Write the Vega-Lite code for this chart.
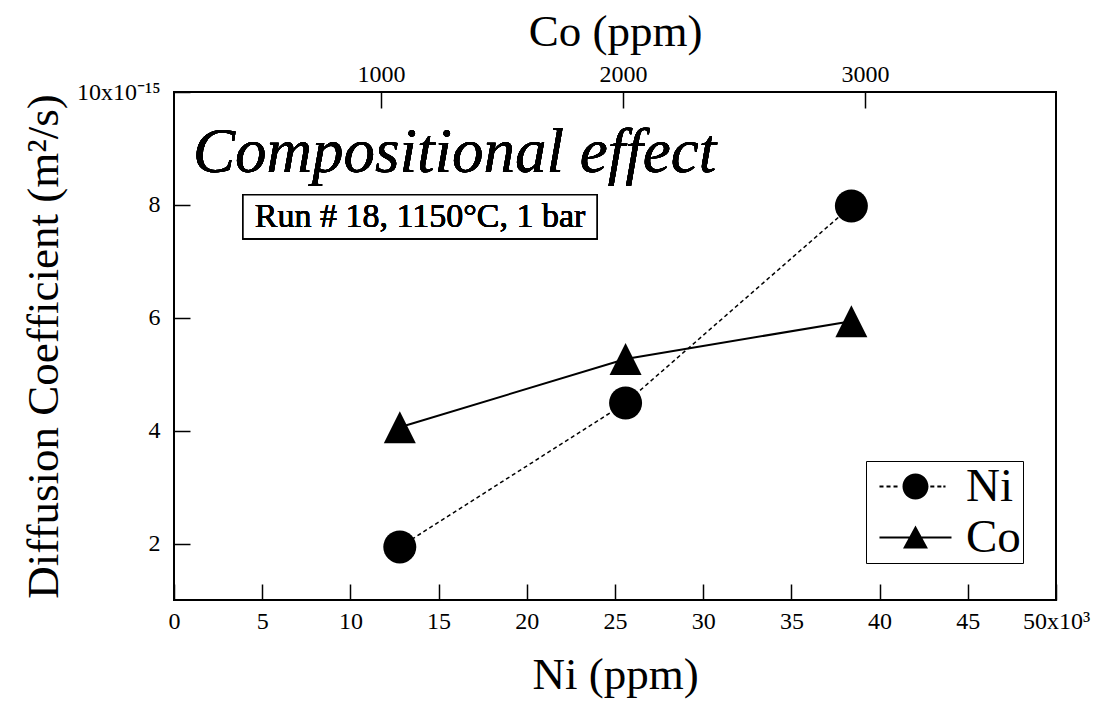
{
  "$schema": "https://vega.github.io/schema/vega-lite/v6.json",
  "width": 882,
  "height": 508,
  "autosize": {"type": "none"},
  "padding": {"left": 174, "top": 92, "right": 45, "bottom": 108},
  "background": "white",
  "config": {
    "view": {"stroke": "black", "strokeWidth": 2},
    "axis": {
      "labelFont": "Liberation Serif, Times New Roman, Times, serif",
      "labelFontSize": 24,
      "labelColor": "black",
      "tickColor": "black",
      "tickWidth": 1.5,
      "titleFont": "Liberation Serif, Times New Roman, Times, serif",
      "titleFontSize": 45,
      "titleFontWeight": "normal",
      "titleColor": "black",
      "domain": false,
      "grid": false
    },
    "text": {"font": "Liberation Serif, Times New Roman, Times, serif", "color": "black"}
  },
  "data": {
    "values": [
      {"series": "Ni", "Ni_kppm": 12.8, "D": 1.94},
      {"series": "Ni", "Ni_kppm": 25.6, "D": 4.49},
      {"series": "Ni", "Ni_kppm": 38.4, "D": 7.98},
      {"series": "Co", "Ni_kppm": 12.8, "D": 4.06},
      {"series": "Co", "Ni_kppm": 25.6, "D": 5.27},
      {"series": "Co", "Ni_kppm": 38.4, "D": 5.94}
    ]
  },
  "layer": [
    {
      "encoding": {
        "x": {
          "field": "Ni_kppm",
          "type": "quantitative",
          "scale": {"domain": [0, 50], "nice": false, "zero": false},
          "axis": {
            "title": "Ni (ppm)",
            "values": [0, 5, 10, 15, 20, 25, 30, 35, 40, 45, 50],
            "labelExpr": "datum.value == 50 ? '50x10³' : datum.label",
            "tickSize": -16,
            "labelPadding": 25,
            "titlePadding": 19,
            "labelFlush": false
          }
        },
        "y": {
          "field": "D",
          "type": "quantitative",
          "scale": {"domain": [1, 10], "nice": false, "zero": false},
          "axis": {
            "title": "Diffusion Coefficient (m²/s)",
            "values": [2, 4, 6, 8, 10],
            "labelExpr": "datum.value == 10 ? '10x10⁻¹⁵' : datum.label",
            "tickSize": -16,
            "labelPadding": 30,
            "titlePadding": 10,
            "labelFlush": false
          }
        }
      },
      "layer": [
        {
          "transform": [{"filter": "datum.series == 'Ni'"}],
          "mark": {"type": "line", "color": "black", "strokeWidth": 1.5, "strokeDash": [4, 3]}
        },
        {
          "transform": [{"filter": "datum.series == 'Co'"}],
          "mark": {"type": "line", "color": "black", "strokeWidth": 2}
        },
        {
          "transform": [{"filter": "datum.series == 'Ni'"}],
          "mark": {"type": "point", "shape": "circle", "filled": true, "color": "black", "opacity": 1, "size": 1089, "strokeWidth": 0}
        },
        {
          "transform": [{"filter": "datum.series == 'Co'"}],
          "mark": {"type": "point", "shape": "M0,-1L1,1L-1,1Z", "filled": true, "color": "black", "opacity": 1, "size": 1024, "strokeWidth": 0}
        },
        {
          "mark": {"type": "text", "text": "Compositional effect", "fontSize": 63, "fontStyle": "italic", "align": "left", "baseline": "alphabetic"},
          "encoding": {
            "x": {"datum": 1.08, "type": "quantitative"},
            "y": {"datum": 8.58, "type": "quantitative"}
          }
        },
        {
          "mark": {"type": "rect", "fill": "white", "stroke": "black", "strokeWidth": 1.5},
          "encoding": {
            "x": {"datum": 3.91, "type": "quantitative"},
            "x2": {"datum": 23.98},
            "y": {"datum": 8.18, "type": "quantitative"},
            "y2": {"datum": 7.4}
          }
        },
        {
          "mark": {"type": "text", "text": "Run # 18, 1150°C, 1 bar", "fontSize": 34, "align": "center", "baseline": "alphabetic"},
          "encoding": {
            "x": {"datum": 13.95, "type": "quantitative"},
            "y": {"datum": 7.6, "type": "quantitative"}
          }
        }
      ]
    },
    {
      "transform": [{"filter": "false"}],
      "mark": {"type": "point", "filled": true, "color": "black", "strokeWidth": 0},
      "encoding": {
        "x": {
          "field": "Co_ppm",
          "type": "quantitative",
          "scale": {"domain": [145, 3789], "nice": false, "zero": false},
          "axis": {
            "orient": "top",
            "title": "Co (ppm)",
            "values": [1000, 2000, 3000],
            "format": "d",
            "tickSize": -16,
            "labelPadding": 22,
            "titlePadding": 8
          }
        },
        "shape": {
          "field": "series",
          "type": "nominal",
          "scale": {
            "domain": ["Ni", "Co"],
            "range": [
              "M0.845,0A1,1 0 1,1 2.845,0A1,1 0 1,1 0.845,0Z M-0.925,-0.075H-0.615V0.075H-0.925Z M-0.385,-0.075H-0.075V0.075H-0.385Z M0.155,-0.075H0.465V0.075H0.155Z M2.985,-0.075H3.295V0.075H2.985Z M3.525,-0.075H3.835V0.075H3.525Z M3.985,-0.075H4.155V0.075H3.985Z",
              "M1.845,-0.92L2.805,0.85L0.885,0.85Z M-0.925,-0.08H4.615V0.08H-0.925Z"
            ]
          },
          "legend": {
            "title": null,
            "orient": "none",
            "legendX": 692,
            "legendY": 369,
            "padding": 2,
            "rowPadding": 3,
            "labelOffset": 51,
            "labelFont": "Liberation Serif, Times New Roman, Times, serif",
            "labelFontSize": 47,
            "labelColor": "black",
            "symbolSize": 676,
            "symbolFillColor": "black",
            "symbolStrokeColor": "black",
            "symbolStrokeWidth": 0,
            "symbolOpacity": 1,
            "strokeColor": "black",
            "fillColor": "white"
          }
        }
      }
    }
  ],
  "resolve": {"scale": {"x": "independent"}}
}
